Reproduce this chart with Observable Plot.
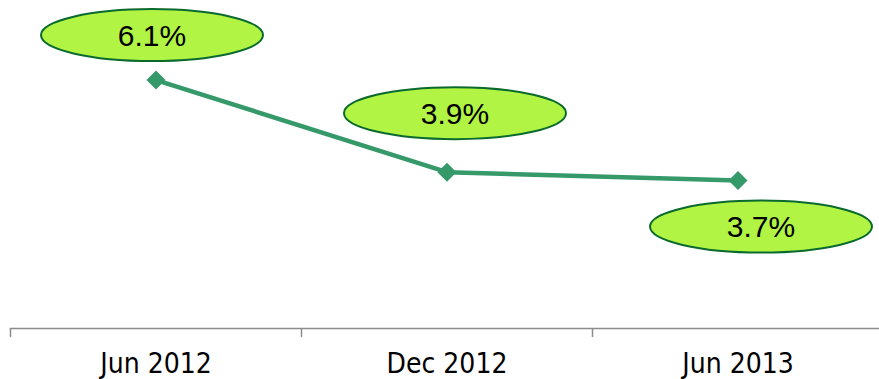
<!DOCTYPE html>
<html>
<head>
<meta charset="utf-8">
<script src="https://cdn.jsdelivr.net/npm/d3@7"></script>
<script src="https://cdn.jsdelivr.net/npm/@observablehq/plot@0.6"></script>
<style>
  html, body { margin: 0; padding: 0; background: #ffffff; }
  #chart { width: 879px; height: 379px; overflow: hidden; }
</style>
</head>
<body>
<div id="chart"></div>
<script>
const periods = ["Jun 2012", "Dec 2012", "Jun 2013"];
const rates = [6.1, 3.9, 3.7];
const rateLabels = ["6.1%", "3.9%", "3.7%"];

const data = periods.map((p, i) => ({period: p, rate: rates[i], label: rateLabels[i]}));

// label bubble offsets (layout only)
const bubbleOffsets = [[-4, -45], [8, -59], [23, 46]];

const ellipse = {
  draw(ctx) {
    const rx = 111, ry = 26, k = 0.5523;
    ctx.moveTo(rx, 0);
    ctx.bezierCurveTo(rx, ry * k, rx * k, ry, 0, ry);
    ctx.bezierCurveTo(-rx * k, ry, -rx, ry * k, -rx, 0);
    ctx.bezierCurveTo(-rx, -ry * k, -rx * k, -ry, 0, -ry);
    ctx.bezierCurveTo(rx * k, -ry, rx, -ry * k, rx, 0);
    ctx.closePath();
  }
};

const bubbles = data.flatMap((d, i) => [
  Plot.dot([d], {x: "period", y: "rate", symbol: ellipse, r: 1,
    fill: "#b1f443", stroke: "#0a6a2e", strokeWidth: 2,
    dx: bubbleOffsets[i][0], dy: bubbleOffsets[i][1]}),
  Plot.text([d], {x: "period", y: "rate", text: "label",
    dx: bubbleOffsets[i][0], dy: bubbleOffsets[i][1] + 1,
    fontSize: 30, fill: "#000000", fontFamily: "Liberation Sans, Arial, sans-serif"})
]);

const step = (883 - 10) / periods.length;

const chart = Plot.plot({
  width: 879,
  height: 379,
  marginTop: 0,
  marginLeft: 10,
  marginRight: 0,
  marginBottom: 51,
  style: {fontFamily: "DejaVu Sans Condensed, sans-serif", background: "#ffffff", overflow: "visible"},
  x: {type: "band", domain: periods, range: [10, 883], padding: 0, label: null},
  y: {domain: [0, 8], range: [335, 0], axis: null},
  marks: [
    Plot.frame({anchor: "bottom", stroke: "#8c8c8c", strokeWidth: 1.5}),
    Plot.axisX({tickSize: 9, dx: -step / 2, tickFormat: () => "", stroke: "#8c8c8c", strokeWidth: 1.5, label: null}),
    Plot.axisX({tickSize: 0, tickPadding: 25, fontSize: 28, fill: "#000000", label: null}),
    Plot.line(data, {x: "period", y: "rate", stroke: "#35996a", strokeWidth: 4.5}),
    Plot.dot(data, {x: "period", y: "rate", symbol: "diamond2", r: 8.6, fill: "#35996a", stroke: "none"}),
    ...bubbles
  ]
});

document.getElementById("chart").appendChild(chart);
</script>
</body>
</html>
